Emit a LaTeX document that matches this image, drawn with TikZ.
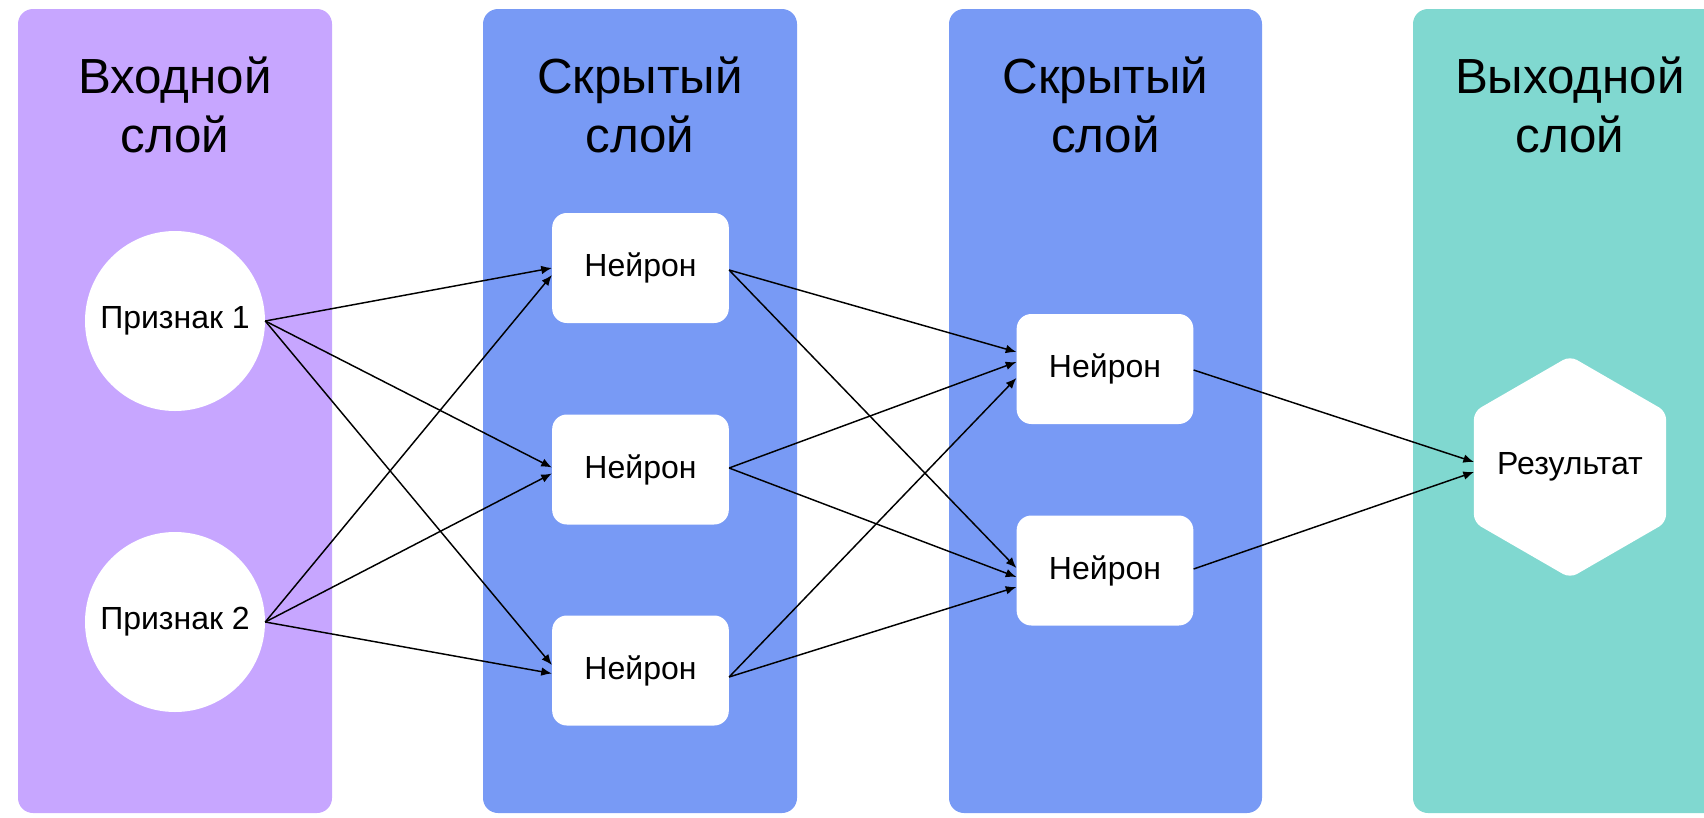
\documentclass[tikz,border=0pt]{standalone}
\usepackage{fontspec}
\setmainfont{Liberation Sans}
\usetikzlibrary{shapes.geometric,arrows.meta,calc}
\definecolor{cpurple}{RGB}{199,166,255}
\definecolor{cblue}{RGB}{120,154,245}
\definecolor{cteal}{RGB}{128,216,208}
\begin{document}
\begin{tikzpicture}[x=0.75pt,y=-0.75pt,
  panel/.style={rounded corners=11.25pt},
  title/.style={anchor=base, font=\fontsize{37}{44}\selectfont, inner sep=0pt},
  feat/.style={circle, fill=white, minimum size=135pt, inner sep=0pt, font=\fontsize{24}{28}\selectfont},
  neuron/.style={rectangle, rounded corners=11pt, fill=white, minimum width=132.5pt, minimum height=82.5pt, inner sep=0pt, font=\fontsize{24}{28}\selectfont},
  res/.style={regular polygon, regular polygon sides=6, shape border rotate=30, fill=white, minimum size=166.5pt, inner sep=-14pt, rounded corners=6pt, font=\fontsize{24}{28}\selectfont},
  conn/.style={line width=1.1pt, -{Latex[length=8pt,width=6.5pt]}}
]
\useasboundingbox (0,0) rectangle (1704,818);
\clip (0,0) rectangle (1704,818);
% panels
\fill[cpurple, panel] (18,9) rectangle (332,813);
\fill[cblue, panel] (483,9) rectangle (797,813);
\fill[cblue, panel] (949,9) rectangle (1262,813);
\fill[cteal, panel] (1413,9) rectangle (1727,813);
% titles
\node[title] (t1a) at (175,93) {Входной};
\node[title] (t1b) at (175,152) {слой};
\node[title] (t2a) at (640,93) {Скрытый};
\node[title] (t2b) at (640,152) {слой};
\node[title] (t3a) at (1105.5,93) {Скрытый};
\node[title] (t3b) at (1105.5,152) {слой};
\node[title] (t4a) at (1570,93) {Выходной};
\node[title] (t4b) at (1570,152) {слой};
% nodes
\node[feat] (p1) at (175,321) {Признак 1};
\node[feat] (p2) at (175,622) {Признак 2};
\node[neuron] (b1) at (640.5,268) {Нейрон};
\node[neuron] (b2) at (640.5,469.5) {Нейрон};
\node[neuron] (b3) at (640.5,670.5) {Нейрон};
\node[neuron] (ca) at (1105,369) {Нейрон};
\node[neuron] (cb) at (1105,570.5) {Нейрон};
\node[res] (hx) at (1570,467) {Результат};
% connectors
\draw[conn] (p1.east) -- (b1.west);
\draw[conn] (p1.east) -- ($(b2.west)+(0,-2)$);
\draw[conn] (p1.east) -- ($(b3.west)+(0,-5.5)$);
\draw[conn] (p2.east) -- ($(b1.west)+(0,7)$);
\draw[conn] (p2.east) -- ($(b2.west)+(0,4)$);
\draw[conn] (p2.east) -- ($(b3.west)+(0,3)$);
\draw[conn] ($(b1.east)+(0,2)$) -- ($(ca.west)+(0,-17)$);
\draw[conn] ($(b1.east)+(0,2)$) -- ($(cb.west)+(0,-2.5)$);
\draw[conn] ($(b2.east)+(0,-1.5)$) -- ($(ca.west)+(0,-7)$);
\draw[conn] ($(b2.east)+(0,-1.5)$) -- ($(cb.west)+(0,6.5)$);
\draw[conn] ($(b3.east)+(0,6.5)$) -- ($(ca.west)+(0,9)$);
\draw[conn] ($(b3.east)+(0,6.5)$) -- ($(cb.west)+(0,16.5)$);
\draw[conn] ($(ca.east)+(0,1)$) -- ($(hx.center)+(-96,-5)$);
\draw[conn] ($(cb.east)+(0,-1.5)$) -- ($(hx.center)+(-96,5)$);
\end{tikzpicture}
\end{document}
